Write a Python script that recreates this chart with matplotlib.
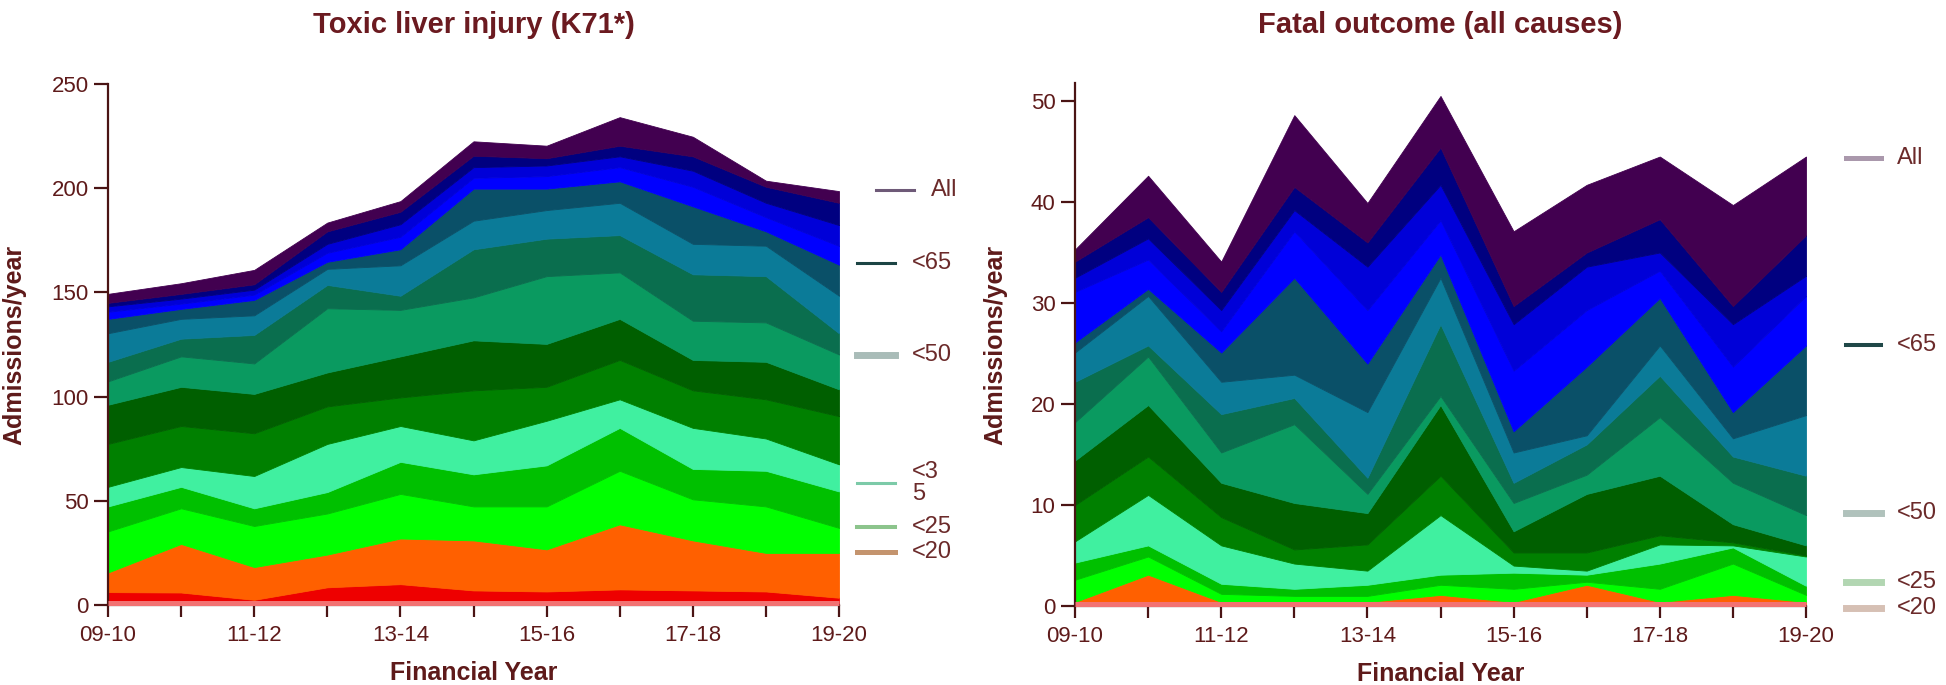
import numpy as np
import matplotlib
matplotlib.use("Agg")
import matplotlib.pyplot as plt
import matplotlib.transforms as mtransforms
from matplotlib.lines import Line2D

plt.rcParams['font.family'] = ['Liberation Sans', 'DejaVu Sans']

# financial years on the x axis
years = ["09-10", "10-11", "11-12", "12-13", "13-14", "14-15",
         "15-16", "16-17", "17-18", "18-19", "19-20"]

# Toxic liver injury (K71*) - cumulative admissions/year below each age
k71_lt10 = [0, 0, 0, 0, 0, 0, 0, 0, 0, 0, 0]
k71_lt15 = [6.2, 6.0, 2.5, 8.5, 10.0, 7.0, 6.5, 7.5, 7.0, 6.5, 3.5]
k71_lt20 = [15.6, 29.3, 18.2, 24.2, 31.9, 31.0, 26.7, 38.7, 31.0, 25.0, 25.0]
k71_lt25 = [35.3, 46.4, 37.9, 43.9, 53.3, 47.3, 47.3, 64.4, 50.7, 47.3, 37.0]
k71_lt30 = [47.3, 56.7, 46.4, 54.2, 68.7, 62.7, 67.0, 85.0, 65.3, 64.4, 54.5]
k71_lt35 = [56.7, 66.2, 61.9, 77.3, 85.9, 79.0, 88.4, 98.7, 85.0, 79.9, 67.5]
k71_lt40 = [77.3, 85.9, 82.4, 95.3, 99.6, 103.0, 104.7, 117.6, 103.0, 98.7, 90.6]
k71_lt45 = [96.1, 104.7, 101.3, 111.6, 119.3, 127.0, 125.3, 137.3, 117.6, 116.7, 103.5]
k71_lt50 = [107.3, 119.3, 115.9, 142.4, 141.6, 147.6, 157.8, 159.6, 136.4, 135.6, 120.2]
k71_lt55 = [116.7, 127.8, 129.6, 153.6, 148.4, 170.7, 175.8, 177.5, 158.7, 157.8, 130.4]
k71_lt60 = [130.4, 137.3, 139.0, 161.3, 163.0, 184.4, 189.5, 193.0, 173.3, 172.4, 148.4]
k71_lt65 = [137.3, 142.1, 146.4, 164.7, 170.7, 199.8, 199.8, 203.3, 191.3, 179.3, 163.3]
k71_lt70 = [140.7, 144.6, 148.9, 169.0, 176.7, 205.0, 205.8, 210.1, 200.7, 186.1, 172.3]
k71_lt75 = [143.3, 147.0, 151.3, 173.3, 182.7, 210.1, 210.9, 215.3, 208.4, 193.0, 182.3]
k71_lt80 = [145.0, 149.3, 153.9, 179.3, 188.7, 215.6, 214.4, 220.4, 215.3, 200.7, 193.0]
k71_all = [149.3, 154.4, 160.8, 183.5, 193.8, 222.5, 220.4, 234.1, 224.7, 203.6, 198.6]

# Fatal outcome (all causes)
fatal_lt10 = [0, 0, 0, 0, 0, 0, 0, 0, 0, 0, 0]
fatal_lt15 = [0, 0, 0, 0, 0, 0, 0, 0, 0, 0, 0]
fatal_lt20 = [0.4, 3.1, 0.4, 0.4, 0.4, 1.1, 0.4, 2.1, 0.4, 1.1, 0.4]
fatal_lt25 = [2.6, 4.9, 1.2, 1.0, 1.0, 2.1, 1.7, 2.4, 1.7, 4.2, 1.1]
fatal_lt30 = [4.3, 6.0, 2.2, 1.7, 2.1, 3.1, 3.3, 3.1, 4.2, 5.8, 2.0]
fatal_lt35 = [6.4, 11.0, 6.0, 4.2, 3.5, 9.0, 4.0, 3.5, 6.1, 6.0, 4.9]
fatal_lt40 = [10.0, 14.8, 8.8, 5.6, 6.1, 12.9, 5.3, 5.3, 7.0, 6.3, 5.0]
fatal_lt45 = [14.4, 19.9, 12.2, 10.2, 9.2, 19.9, 7.4, 11.1, 12.9, 8.1, 6.0]
fatal_lt50 = [18.2, 24.7, 15.2, 18.0, 11.1, 20.8, 10.2, 13.0, 18.7, 12.2, 9.0]
fatal_lt55 = [22.2, 25.8, 19.0, 20.6, 12.7, 27.9, 12.2, 16.0, 22.8, 14.8, 12.9]
fatal_lt60 = [25.1, 30.7, 22.2, 22.9, 19.2, 32.5, 15.2, 16.9, 25.8, 16.6, 18.9]
fatal_lt65 = [26.1, 31.4, 25.1, 32.5, 24.0, 34.8, 17.3, 23.7, 30.5, 19.2, 25.8]
fatal_lt70 = [31.1, 34.3, 27.2, 37.1, 29.3, 38.2, 23.3, 29.3, 33.2, 23.7, 30.7]
fatal_lt75 = [32.5, 36.4, 29.3, 39.2, 33.6, 41.7, 27.9, 33.6, 35.0, 27.9, 32.7]
fatal_lt80 = [34.1, 38.5, 31.1, 41.5, 36.0, 45.4, 29.7, 35.0, 38.3, 29.7, 36.7]
fatal_all = [35.3, 42.6, 34.1, 48.6, 39.9, 50.5, 37.1, 41.7, 44.5, 39.7, 44.5]

# one colour per band, bottom to top
band_colors = ["#ee0000", "#ff6000", "#00ff00", "#00c000", "#40f0a0",
               "#008000", "#005f00", "#0a9a60", "#0a6e4e", "#0b7b98",
               "#0a5068", "#0000ff", "#0000d8", "#000080", "#420050"]
base_color = "#f27272"

text_col = "#5e1a1a"
axis_col = "#4a1414"

fig = plt.figure(figsize=(19.46, 6.85), dpi=100)
W, H = 1946, 685


def panel(rect, base, bands, ymax, yticks, title):
    ax = fig.add_axes(rect)
    x = np.arange(len(years))
    lower = np.zeros(len(years))
    for series, color in zip(bands, band_colors):
        ax.fill_between(x, lower, series, facecolor=color, edgecolor=color,
                        linewidth=0.6, zorder=1)
        lower = np.asarray(series, dtype=float)
    # the <10 series sits as a pink strip just above the axis
    lift = mtransforms.offset_copy(ax.transData, fig=fig, y=2.5, units="dots")
    ax.plot(x, base, color=base_color, lw=3.6, zorder=3, clip_on=False,
            solid_capstyle="butt", transform=lift)

    ax.set_xlim(0, len(years) - 1)
    ax.set_ylim(0, ymax)
    ax.set_xticks(x)
    ax.set_xticklabels([y if i % 2 == 0 else "" for i, y in enumerate(years)])
    ax.set_yticks(yticks)
    for side in ("top", "right"):
        ax.spines[side].set_visible(False)
    for side in ("left", "bottom"):
        ax.spines[side].set_color(axis_col)
        ax.spines[side].set_linewidth(1.6)
    ax.tick_params(axis="x", length=8.6, width=1.6, color=axis_col, pad=6,
                   labelsize=16, labelcolor=text_col)
    ax.tick_params(axis="y", length=10, width=1.6, color=axis_col, pad=4,
                   labelsize=16, labelcolor=text_col)
    ax.set_xlabel("Financial Year", fontsize=18, fontweight="bold", color=text_col)
    ax.set_ylabel("Admissions/year", fontsize=18, fontweight="bold", color=text_col)
    ax.xaxis.set_label_coords(0.5, -0.13)
    ax.xaxis.label.set_va("center")
    x0, y0, w, h = rect
    fig.text(x0 + w / 2, 1 - 25 / H, title, ha="center", va="center",
             fontsize=21, fontweight="bold", color="#6b1a20")
    return ax


def end_labels(ax, entries, lx0, lx1, tx):
    tr = mtransforms.blended_transform_factory(fig.transFigure, ax.transData)
    for label, yv, color, lw, dx in entries:
        ax.add_line(Line2D([(lx0 + dx) / W, (lx1 + dx) / W], [yv, yv],
                           transform=tr, color=color, lw=lw, clip_on=False))
        ax.text((tx + dx) / W, yv, label, transform=tr, ha="left", va="center",
                fontsize=17, color="#6b2a2a", clip_on=False,
                linespacing=1.0)


ax1 = panel([108 / W, (H - 605) / H, 731 / W, 521 / H], k71_lt10,
            [k71_lt15, k71_lt20, k71_lt25, k71_lt30, k71_lt35, k71_lt40,
             k71_lt45, k71_lt50, k71_lt55, k71_lt60, k71_lt65, k71_lt70,
             k71_lt75, k71_lt80, k71_all],
            250, [0, 50, 100, 150, 200, 250], "Toxic liver injury (K71*)")
ax1.yaxis.set_label_coords(-0.111, 0.5)

ax2 = panel([1075 / W, (H - 606) / H, 731 / W, 523 / H], fatal_lt10,
            [fatal_lt15, fatal_lt20, fatal_lt25, fatal_lt30, fatal_lt35,
             fatal_lt40, fatal_lt45, fatal_lt50, fatal_lt55, fatal_lt60,
             fatal_lt65, fatal_lt70, fatal_lt75, fatal_lt80, fatal_all],
            523 / 10.1, [0, 10, 20, 30, 40, 50], "Fatal outcome (all causes)")
ax2.yaxis.set_label_coords(-0.092, 0.5)

end_labels(ax1, [
    ("All", 199.0, "#6e5a78", 2.2, 19),
    ("<65", 164.0, "#1c4444", 2.2, 0),
    ("<50", 120.0, "#a9bcb8", 5.0, 0),
    ("<3\n5", 58.5, "#7ccaa8", 2.2, 0),
    ("<25", 37.4, "#8cc48c", 2.9, 0),
    ("<20", 25.4, "#c4946e", 3.6, 0),
], 857, 895, 912)

end_labels(ax2, [
    ("All", 44.4, "#aa98ac", 3.6, 0),
    ("<65", 25.8, "#204848", 2.9, 0),
    ("<50", 9.2, "#b0c2bc", 5.0, 0),
    ("<25", 2.4, "#b2d6b2", 5.0, 0),
    ("<20", -0.2, "#d6c0b4", 5.0, 0),
], 1846, 1881, 1897)

fig.savefig("out.png", dpi=100, facecolor="white")
